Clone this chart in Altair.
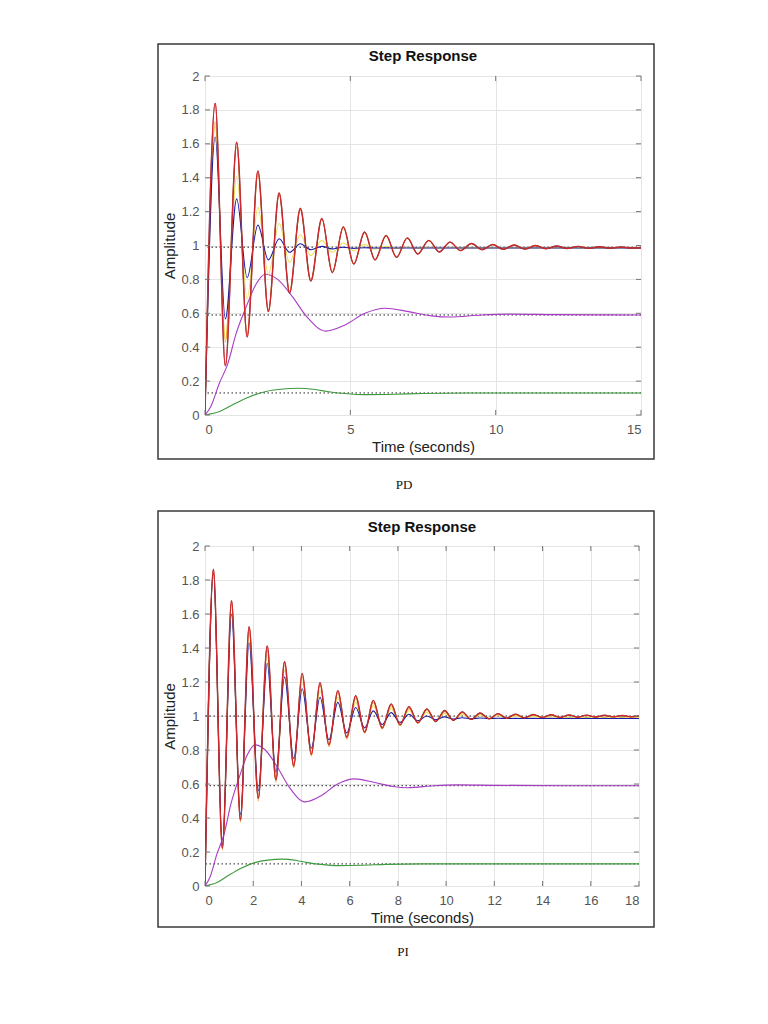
import altair as alt
import pandas as pd

# ---------------- data ----------------
# PD panel: times of extremes (start, peak/trough pairs, end)
pd_t = [0, 0.35, 0.70, 1.09, 1.45, 1.82, 2.18, 2.55, 2.91, 3.28, 3.64, 4.02, 4.38,
        4.76, 5.12, 5.49, 5.85, 6.23, 6.59, 6.96, 7.32, 7.70, 8.06, 8.43, 8.79,
        9.17, 9.53, 9.90, 10.26, 10.64, 11.00, 11.37, 11.73, 12.10, 12.46, 12.84,
        13.20, 13.57, 13.93, 14.31, 14.67, 15.0]
pd_red = [0, 1.84, 0.29, 1.61, 0.46, 1.44, 0.61, 1.31, 0.72, 1.22, 0.79, 1.16, 0.84,
          1.11, 0.89, 1.08, 0.915, 1.06, 0.93, 1.045, 0.95, 1.03, 0.962, 1.02, 0.97,
          1.012, 0.975, 1.006, 0.977, 1.003, 0.979, 1.0, 0.981, 0.997, 0.982, 0.995,
          0.983, 0.993, 0.984, 0.991, 0.985, 0.987]
pd_orange = [0, 1.73, 0.43, 1.58, 0.48, 1.42, 0.62, 1.30, 0.73, 1.21, 0.80, 1.155, 0.845,
             1.105, 0.892, 1.075, 0.917, 1.057, 0.932, 1.043, 0.951, 1.029, 0.963, 1.019, 0.971,
             1.011, 0.976, 1.005, 0.978, 1.002, 0.98, 0.999, 0.982, 0.996, 0.983, 0.994,
             0.984, 0.992, 0.985, 0.99, 0.985, 0.987]
pd_yellow = [0, 1.70, 0.45, 1.41, 0.685, 1.225, 0.83, 1.13, 0.90, 1.065, 0.94, 1.03, 0.96,
             1.015, 0.97, 1.005, 0.978, 0.995, 0.982, 0.99, 0.984, 0.988, 0.985, 0.987, 0.986,
             0.986, 0.986, 0.986, 0.986, 0.986, 0.986, 0.986, 0.986, 0.986, 0.986, 0.986,
             0.986, 0.986, 0.986, 0.986, 0.986, 0.986]
pd_blue = [0, 1.64, 0.567, 1.275, 0.81, 1.12, 0.915, 1.04, 0.96, 1.01, 0.975, 0.995, 0.98,
           0.99, 0.983, 0.987, 0.985, 0.986, 0.985, 0.985, 0.985, 0.985, 0.985, 0.985, 0.985,
           0.985, 0.985, 0.985, 0.985, 0.985, 0.985, 0.985, 0.985, 0.985, 0.985, 0.985,
           0.985, 0.985, 0.985, 0.985, 0.985, 0.985]

# PI panel
pi_t = [0, 0.35, 0.72, 1.10, 1.47, 1.83, 2.21, 2.58, 2.94, 3.30, 3.68, 4.03, 4.41,
        4.77, 5.14, 5.51, 5.88, 6.25, 6.62, 6.98, 7.35, 7.72, 8.09, 8.46, 8.83,
        9.20, 9.57, 9.94, 10.30, 10.67, 11.04, 11.41, 11.78, 12.15, 12.51, 12.88,
        13.25, 13.62, 13.99, 14.36, 14.73, 15.10, 15.46, 15.83, 16.20, 16.57, 16.94,
        17.31, 17.67, 18.0]
pi_red = [0, 1.863, 0.222, 1.678, 0.388, 1.525, 0.516, 1.412, 0.624, 1.319, 0.706, 1.251, 0.775,
          1.196, 0.830, 1.149, 0.875, 1.119, 0.905, 1.092, 0.930, 1.071, 0.948, 1.055, 0.960,
          1.042, 0.968, 1.032, 0.975, 1.024, 0.980, 1.018, 0.984, 1.014, 0.987, 1.011,
          0.989, 1.009, 0.991, 1.007, 0.992, 1.006, 0.993, 1.005, 0.994, 1.004, 0.995,
          1.003, 0.996, 1.0]
pi_orange = [0, 1.85, 0.21, 1.66, 0.375, 1.51, 0.50, 1.39, 0.61, 1.30, 0.695, 1.23, 0.765,
             1.18, 0.82, 1.135, 0.865, 1.105, 0.90, 1.08, 0.925, 1.06, 0.945, 1.045, 0.958,
             1.035, 0.967, 1.026, 0.974, 1.019, 0.979, 1.014, 0.983, 1.011, 0.986, 1.008,
             0.988, 1.006, 0.99, 1.005, 0.991, 1.004, 0.992, 1.003, 0.993, 1.002, 0.994,
             1.001, 0.995, 0.998]
pi_yellow = [0, 1.85, 0.23, 1.64, 0.40, 1.48, 0.53, 1.36, 0.64, 1.27, 0.72, 1.20, 0.79,
             1.15, 0.84, 1.11, 0.88, 1.08, 0.91, 1.06, 0.935, 1.045, 0.95, 1.032, 0.962,
             1.022, 0.97, 1.015, 0.976, 1.01, 0.98, 1.006, 0.983, 1.003, 0.985, 1.0,
             0.986, 0.998, 0.987, 0.996, 0.988, 0.994, 0.988, 0.992, 0.989, 0.991, 0.989,
             0.99, 0.989, 0.99]
pi_blue = [0, 1.84, 0.24, 1.60, 0.42, 1.43, 0.56, 1.31, 0.67, 1.23, 0.75, 1.16, 0.81,
           1.11, 0.86, 1.08, 0.90, 1.05, 0.93, 1.03, 0.95, 1.02, 0.962, 1.01, 0.972,
           1.0, 0.978, 0.995, 0.982, 0.99, 0.984, 0.988, 0.985, 0.987, 0.985, 0.986,
           0.985, 0.986, 0.985, 0.986, 0.985, 0.986, 0.985, 0.986, 0.985, 0.986, 0.985,
           0.986, 0.985, 0.985]

# slow responses (same in both panels)
purple_t = [0, 0.2, 0.5, 0.78, 1.07, 1.41, 1.75, 2.07, 2.5, 3.0, 3.5, 4.15, 4.8, 5.5,
            6.2, 7.0, 7.8, 8.4, 9.5, 10.5, 12, 15, 18]
purple_a = [0, 0.05, 0.19, 0.30, 0.48, 0.635, 0.77, 0.83, 0.80, 0.70, 0.58, 0.495, 0.53,
            0.60, 0.63, 0.61, 0.585, 0.578, 0.59, 0.595, 0.592, 0.59, 0.59]
green_t = [0, 0.5, 1.0, 1.5, 2.1, 2.6, 3.2, 3.8, 4.2, 4.8, 5.5, 6.5, 7.5, 9, 12, 15, 18]
green_a = [0, 0.02, 0.065, 0.105, 0.139, 0.152, 0.158, 0.15, 0.139, 0.127, 0.12, 0.122,
           0.127, 0.13, 0.13, 0.13, 0.13]

pd_steady = [0.99, 0.59, 0.13]
pi_steady = [1.0, 0.59, 0.13]

y_ticks = [0, 0.2, 0.4, 0.6, 0.8, 1, 1.2, 1.4, 1.6, 1.8, 2]
pd_xticks = [0, 5, 10, 15]
pi_xticks = [0, 2, 4, 6, 8, 10, 12, 14, 16, 18]
captions = ["PD", "PI"]
chart_title = "Step Response"

# ---------------- styles ----------------
C_BLUE = "#1a1aa8"
C_YELLOW = "#e9df5c"
C_ORANGE = "#f39a1c"
C_RED = "#e8262b"
C_DARK = "#8a3038"
C_PURPLE = "#a83cc6"
C_GREEN = "#3d9a3d"
FONT = "Liberation Sans"


def panel(t, series, xmax, xticks, steady, caption, W, H, frame):
    xscale = alt.Scale(domain=[0, xmax], nice=False, zero=False)
    yscale = alt.Scale(domain=[0, 2], nice=False)
    xaxis = alt.Axis(values=xticks, title="Time (seconds)", grid=True, ticks=False,
                     domain=False, labelPadding=8, titlePadding=3, labelOverlap=False)
    yaxis = alt.Axis(values=y_ticks, format="~g", title="Amplitude", grid=True,
                     ticks=False, domain=False, labelPadding=6, titlePadding=3,
                     labelOverlap=False)
    xs = alt.X("t:Q", scale=xscale, axis=xaxis)
    ys = alt.Y("a:Q", scale=yscale, axis=yaxis)

    layers = []
    # steady-state dotted lines
    layers.append(alt.Chart(pd.DataFrame({"a": steady})).mark_rule(
        color="#222222", strokeDash=[1.5, 2.5], strokeWidth=1).encode(y=ys))

    def line(tt, vals, color, width=1.1, opacity=1.0):
        df = pd.DataFrame({"t": tt, "a": vals})
        df = df[df["t"] <= xmax]
        return alt.Chart(df).mark_line(color=color, strokeWidth=width, opacity=opacity,
                                       interpolate="monotone", clip=True).encode(x=xs, y=ys)

    layers.append(line(green_t, green_a, C_GREEN))
    layers.append(line(purple_t, purple_a, C_PURPLE))
    layers.append(line(t, series["yellow"], C_YELLOW))
    layers.append(line(t, series["orange"], C_ORANGE))
    layers.append(line(t, series["blue"], C_BLUE))
    layers.append(line(t, series["red"], C_DARK, width=1.4))
    layers.append(line(t, series["red"], C_RED, width=0.9, opacity=0.9))

    # inside ticks (MATLAB style)
    ydf = pd.DataFrame({"a": y_ticks})
    xdf = pd.DataFrame({"t": xticks})
    tick_col = "#777777"
    layers.append(alt.Chart(ydf).mark_rule(color=tick_col).encode(
        y=ys, x=alt.value(0), x2=alt.value(5)))
    layers.append(alt.Chart(ydf).mark_rule(color=tick_col).encode(
        y=ys, x=alt.value(W - 5), x2=alt.value(W)))
    layers.append(alt.Chart(xdf).mark_rule(color=tick_col).encode(
        x=xs, y=alt.value(H), y2=alt.value(H - 5)))
    layers.append(alt.Chart(xdf).mark_rule(color=tick_col).encode(
        x=xs, y=alt.value(0), y2=alt.value(5)))

    one = pd.DataFrame({"c": [caption], "ttl": [chart_title]})
    # figure frame
    layers.append(alt.Chart(one).mark_rect(fillOpacity=0, stroke="#3a3a3a", strokeWidth=1.5).encode(
        x=alt.value(frame[0]), x2=alt.value(frame[1]), y=alt.value(frame[2]), y2=alt.value(frame[3])))
    # title inside the frame
    layers.append(alt.Chart(one).mark_text(font=FONT, fontSize=15, fontWeight="bold", color="#111111",
                                           baseline="middle", align="center").encode(
        text="ttl:N", x=alt.value(W / 2), y=alt.value(frame[6])))
    # caption below the figure
    layers.append(alt.Chart(one).mark_text(font="Liberation Serif", fontSize=13, color="#111111",
                                           baseline="middle", align="center").encode(
        text="c:N", x=alt.value(frame[4]), y=alt.value(frame[5])))

    return alt.layer(*layers).properties(width=W, height=H)


p1 = panel(pd_t, {"red": pd_red, "orange": pd_orange, "yellow": pd_yellow, "blue": pd_blue},
           15, pd_xticks, pd_steady, captions[0], 436, 339, (-47, 449, -32, 383, 199, 409, -20))
p2 = panel(pi_t, {"red": pi_red, "orange": pi_orange, "yellow": pi_yellow, "blue": pi_blue},
           18, pi_xticks, pi_steady, captions[1], 434, 340, (-47, 449, -35, 381, 198, 406, -19))

chart = alt.vconcat(p1, p2, spacing=16).properties(
    padding={"left": 156, "top": 42, "right": 10, "bottom": 10},
    background="white",
).configure_view(stroke="#8a8a8a", strokeWidth=1).configure_axis(
    gridColor="#e4e4e4", gridWidth=1, labelFont=FONT, labelFontSize=13, labelColor="#555555",
    titleFont=FONT, titleFontSize=15, titleColor="#222222", titleFontWeight="normal",
)

chart.save("out.html", embed_options={"renderer": "svg", "actions": False})
